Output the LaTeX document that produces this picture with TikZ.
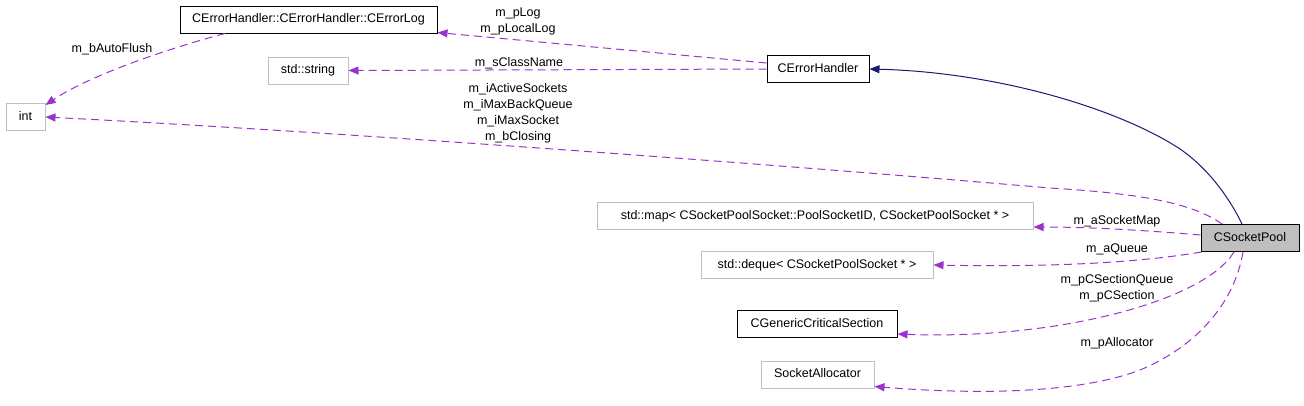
\documentclass[tikz,border=0pt]{standalone}
\usepackage{fontspec}
\setmainfont{Liberation Sans}
\usetikzlibrary{arrows.meta}
\definecolor{edgepurple}{HTML}{9A32CD}
\definecolor{navyedge}{HTML}{191970}
\definecolor{undocgray}{HTML}{BFBFBF}
\begin{document}
\begin{tikzpicture}[x=1pt,y=-1pt, font=\fontsize{12.5}{16}\selectfont,
  cls/.style={draw=black, line width=1pt, fill=white, minimum height=27pt, inner sep=0pt, text height=9pt, text depth=2.5pt},
  undoc/.style={cls, draw=undocgray},
  focus/.style={cls, fill=undocgray},
  member/.style={draw=edgepurple, line width=1pt, dash pattern=on 8pt off 5pt, -{Triangle[length=10pt,width=8pt]}},
  inherit/.style={draw=navyedge, line width=1pt, -{Triangle[length=10pt,width=8pt]}},
  lbl/.style={align=center, inner sep=0pt}]
\useasboundingbox (0,0) rectangle (1304,405);

\node[undoc, minimum width=39pt] (int) at (25.5,117) {int};
\node[cls, minimum width=257pt] (errlog) at (308.5,19.5) {CErrorHandler::CErrorHandler::CErrorLog};
\node[undoc, minimum width=80pt] (string) at (308,70.5) {std::string};
\node[cls, minimum width=102pt] (errh) at (818,69) {CErrorHandler};
\node[undoc, minimum width=436pt] (map) at (815,216) {std::map< CSocketPoolSocket::PoolSocketID, CSocketPoolSocket * >};
\node[focus, minimum width=98pt] (pool) at (1250,238) {CSocketPool};
\node[undoc, minimum width=232pt] (deque) at (817,265) {std::deque< CSocketPoolSocket * >};
\node[cls, minimum width=160pt] (gcs) at (817,324) {CGenericCriticalSection};
\node[undoc, minimum width=113pt] (alloc) at (817.5,374.5) {SocketAllocator};

% inheritance
\draw[inherit] ([xshift=-8pt]pool.north) .. controls (1228,195) and (1205,165) .. (1177,147)
  .. controls (1110,105) and (990,72) .. (errh.east);

% members of CSocketPool
\draw[member] ([xshift=-28pt]pool.north) .. controls (1195,205) and (1150,194) .. (1050,188)
  .. controls (700,158) and (300,130) .. (int.east);
\draw[member] ([yshift=3pt]pool.west) .. controls (1130,229) and (1080,227) .. ([yshift=3pt]map.south east);
\draw[member] ([xshift=1pt]pool.south west) .. controls (1130,264) and (1040,267) .. (deque.east);
\draw[member] ([xshift=-16pt]pool.south) .. controls (1205,300) and (1060,340) .. ([yshift=4pt]gcs.south east);
\draw[member] ([xshift=-7pt]pool.south) .. controls (1235,300) and (1200,345) .. (1140,370)
  .. controls (1080,393) and (980,395) .. ([yshift=2pt]alloc.south east);

% members of CErrorHandler
\draw[member] ([yshift=6pt]errh.west) -- ([yshift=1pt]errlog.south east);
\draw[member] (errh.west) -- (string.east);

% member of CErrorLog
\draw[member] ([xshift=-83.5pt]errlog.south) .. controls (170,48) and (90,75) .. ([yshift=-2pt]int.north east);

% labels
\node[lbl] (lflush) at (112,49) {m\_bAutoFlush};
\node[lbl] (llog) at (518,21) {m\_pLog\\m\_pLocalLog};
\node[lbl] (lclass) at (519,63) {m\_sClassName};
\node[lbl] (lint) at (518,113) {m\_iActiveSockets\\m\_iMaxBackQueue\\m\_iMaxSocket\\m\_bClosing};
\node[lbl] (lmap) at (1117,221) {m\_aSocketMap};
\node[lbl] (lqueue) at (1117,249) {m\_aQueue};
\node[lbl] (lsect) at (1117,288) {m\_pCSectionQueue\\m\_pCSection};
\node[lbl] (lalloc) at (1117,343) {m\_pAllocator};
\end{tikzpicture}
\end{document}
